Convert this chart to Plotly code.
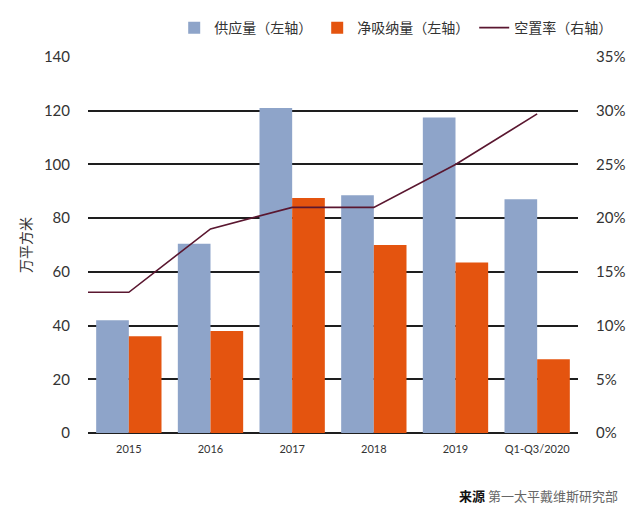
import plotly.graph_objects as go

categories = ["2015", "2016", "2017", "2018", "2019", "Q1-Q3/2020"]
supply = [42, 70.5, 121, 88.5, 117.5, 87]
absorption = [36, 38, 87.5, 70, 63.5, 27.5]
vacancy = [0.131, 0.19, 0.21, 0.21, 0.25, 0.297]
vacancy_left_edge = 0.131  # line starts flat from the left edge of the plot

left_ticks = [0, 20, 40, 60, 80, 100, 120, 140]
right_ticks = [0, 0.05, 0.10, 0.15, 0.20, 0.25, 0.30, 0.35]

x_pos = list(range(len(categories)))
x_range = [-0.5, len(categories) - 0.5]

BLUE = "#8EA4C9"
ORANGE = "#E4540F"
LINE = "#5A1730"
GRID = "#1E1E1E"
FONT = "Lato, Noto Sans CJK SC, sans-serif"

fig = go.Figure()
fig.add_trace(go.Bar(x=x_pos, y=supply, name="供应量（左轴）", marker=dict(color=BLUE, line=dict(width=0))))
fig.add_trace(go.Bar(x=x_pos, y=absorption, name="净吸纳量（左轴）", marker=dict(color=ORANGE, line=dict(width=0))))
fig.add_trace(go.Scatter(x=[x_range[0]] + x_pos, y=[vacancy_left_edge] + vacancy, name="空置率（右轴）",
                         mode="lines", line=dict(color=LINE, width=1.6), yaxis="y2"))

fig.update_layout(
    width=640, height=519,
    margin=dict(l=88, r=62, t=57, b=86, autoexpand=False),
    paper_bgcolor="white", plot_bgcolor="white",
    barmode="group", bargap=0.2, bargroupgap=0,
    font=dict(family=FONT, color="#333333", size=14),
    showlegend=True,
    legend=dict(orientation="h", x=1.08, xanchor="right", y=1.077, yanchor="middle",
                font=dict(family="Noto Sans CJK SC", size=14, color="#333333"),
                itemwidth=30, tracegroupgap=0, bgcolor="rgba(0,0,0,0)"),
    xaxis=dict(range=x_range, tickmode="array", tickvals=x_pos, ticktext=categories,
               showgrid=False, zeroline=False, showline=False, automargin=False,
               ticks="outside", ticklen=6, tickcolor="rgba(0,0,0,0)",
               tickfont=dict(size=11, color="#333333", family=FONT)),
    yaxis=dict(range=[0, 140], tickmode="array", tickvals=left_ticks, automargin=True,
               showgrid=True, gridcolor=GRID, gridwidth=1.5,
               zeroline=True, zerolinecolor=GRID, zerolinewidth=1.5,
               showline=False, ticks="outside", ticklen=14, tickcolor="rgba(0,0,0,0)",
               tickfont=dict(size=15, color="#333333", family=FONT),
               title=dict(text="万平方米", font=dict(family="Noto Sans CJK SC", size=14, color="#333333"), standoff=8)),
    yaxis2=dict(range=[0, 0.35], tickmode="array", tickvals=right_ticks, tickformat=".0%",
                overlaying="y", side="right", showgrid=False, zeroline=False, showline=False, automargin=False,
                ticks="outside", ticklen=14, tickcolor="rgba(0,0,0,0)",
                tickfont=dict(size=15, color="#333333", family=FONT)),
    annotations=[dict(xref="paper", yref="paper", x=1.086, y=-0.165, xanchor="right", yanchor="middle",
                      showarrow=False,
                      text="<b>来源</b> <span style='color:#666666'>第一太平戴维斯研究部</span>",
                      font=dict(family="Noto Sans CJK SC", size=13, color="#111111"))],
)

fig.write_html("out.html", config={"displayModeBar": False},
               post_script="document.body.style.margin='0';")
